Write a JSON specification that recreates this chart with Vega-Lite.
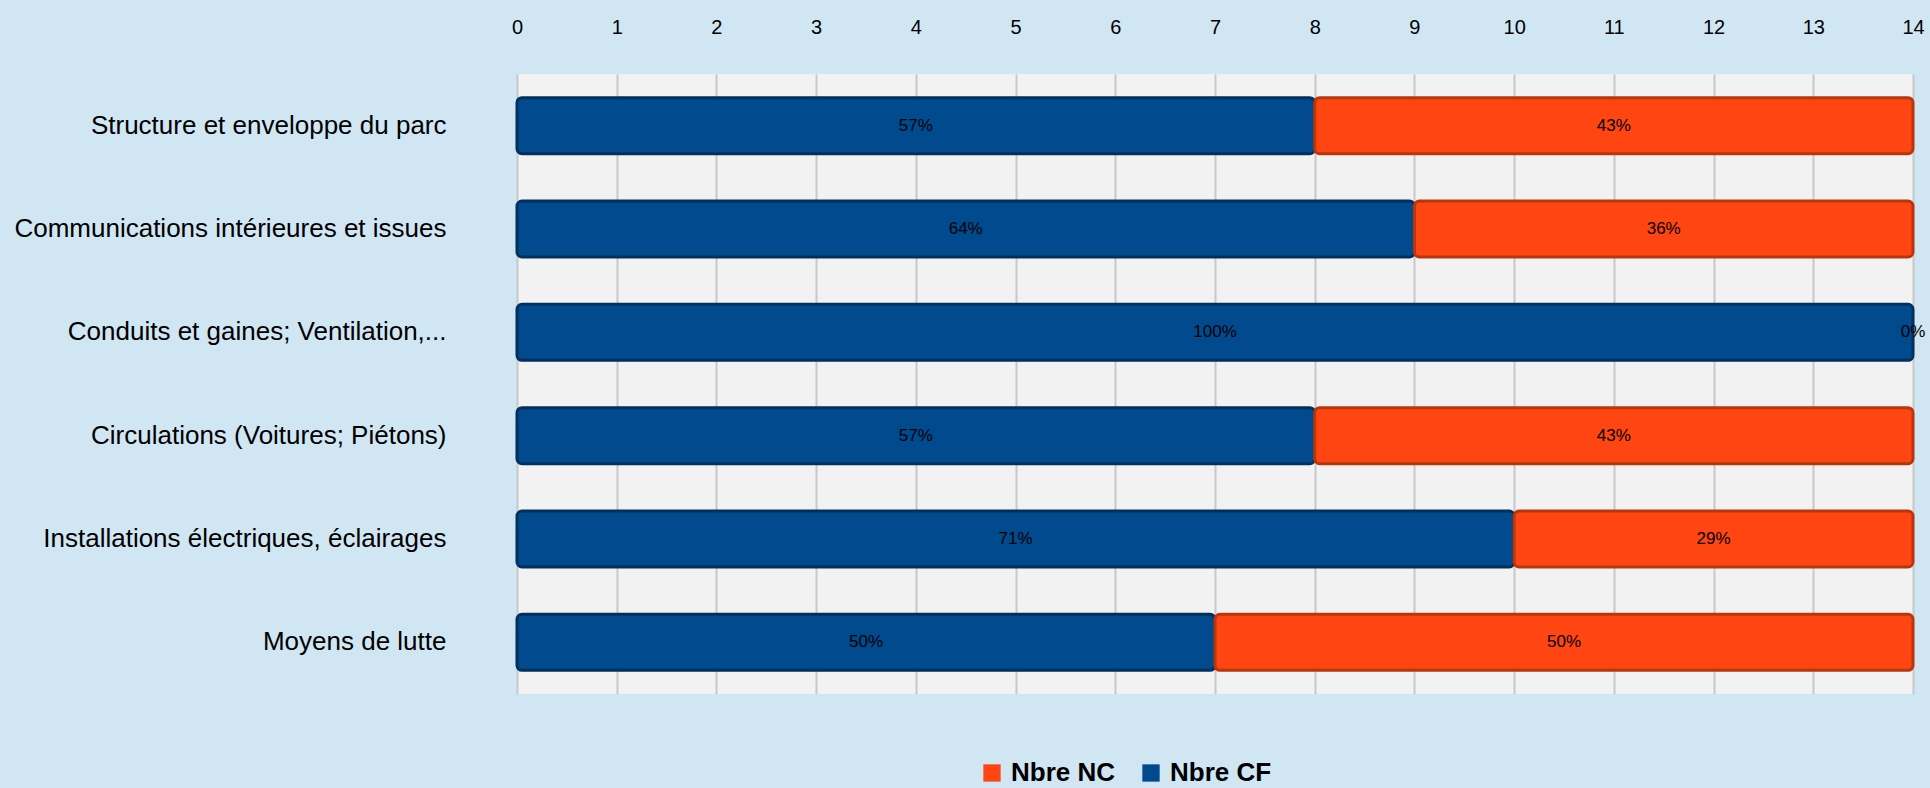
{
  "$schema": "https://vega.github.io/schema/vega-lite/v6.json",
  "width": 1396,
  "height": 620,
  "autosize": {"type": "none"},
  "padding": {"left": 517, "top": 74, "right": 17, "bottom": 94},
  "background": "#D0E6F3",
  "config": {
    "font": "Liberation Sans",
    "view": {"fill": "#F2F2F2", "stroke": null}
  },
  "data": {
    "values": [
      {"rubrique": "Structure et enveloppe du parc", "serie": "Nbre CF", "ordre": 1, "n": 8, "pct": "57%"},
      {"rubrique": "Structure et enveloppe du parc", "serie": "Nbre NC", "ordre": 2, "n": 6, "pct": "43%"},
      {"rubrique": "Communications intérieures et issues", "serie": "Nbre CF", "ordre": 1, "n": 9, "pct": "64%"},
      {"rubrique": "Communications intérieures et issues", "serie": "Nbre NC", "ordre": 2, "n": 5, "pct": "36%"},
      {"rubrique": "Conduits et gaines; Ventilation,...", "serie": "Nbre CF", "ordre": 1, "n": 14, "pct": "100%"},
      {"rubrique": "Conduits et gaines; Ventilation,...", "serie": "Nbre NC", "ordre": 2, "n": 0, "pct": "0%"},
      {"rubrique": "Circulations (Voitures; Piétons)", "serie": "Nbre CF", "ordre": 1, "n": 8, "pct": "57%"},
      {"rubrique": "Circulations (Voitures; Piétons)", "serie": "Nbre NC", "ordre": 2, "n": 6, "pct": "43%"},
      {"rubrique": "Installations électriques, éclairages", "serie": "Nbre CF", "ordre": 1, "n": 10, "pct": "71%"},
      {"rubrique": "Installations électriques, éclairages", "serie": "Nbre NC", "ordre": 2, "n": 4, "pct": "29%"},
      {"rubrique": "Moyens de lutte", "serie": "Nbre CF", "ordre": 1, "n": 7, "pct": "50%"},
      {"rubrique": "Moyens de lutte", "serie": "Nbre NC", "ordre": 2, "n": 7, "pct": "50%"}
    ]
  },
  "transform": [
    {"stack": "n", "groupby": ["rubrique"], "sort": [{"field": "ordre"}], "as": ["x0", "x1"]},
    {"calculate": "(datum.x0 + datum.x1) / 2", "as": "xmid"}
  ],
  "encoding": {
    "y": {
      "field": "rubrique",
      "type": "nominal",
      "sort": null,
      "axis": {
        "title": null,
        "domain": false,
        "ticks": false,
        "labelFontSize": 26,
        "labelColor": "#000000",
        "labelPadding": 71,
        "labelLimit": 520
      }
    }
  },
  "layer": [
    {
      "transform": [{"filter": "datum.n > 0"}],
      "mark": {"type": "bar", "size": 56, "cornerRadius": 5, "strokeWidth": 3},
      "encoding": {
        "x": {
          "field": "x0",
          "type": "quantitative",
          "scale": {"domain": [0, 14], "nice": false},
          "axis": {
            "orient": "top",
            "title": null,
            "values": [0, 1, 2, 3, 4, 5, 6, 7, 8, 9, 10, 11, 12, 13, 14],
            "format": "d",
            "domain": false,
            "ticks": false,
            "labelFontSize": 20,
            "labelColor": "#000000",
            "labelPadding": 37,
            "labelFlush": false,
            "grid": true,
            "gridColor": "#C8C8C8",
            "gridWidth": 2
          }
        },
        "x2": {"field": "x1"},
        "color": {
          "field": "serie",
          "type": "nominal",
          "scale": {"domain": ["Nbre NC", "Nbre CF"], "range": ["#FF4511", "#004A8D"]},
          "legend": {
            "orient": "none",
            "legendX": 462,
            "legendY": 686,
            "direction": "horizontal",
            "title": null,
            "symbolType": "square",
            "symbolSize": 300,
            "symbolStrokeWidth": 0,
            "labelFontSize": 26,
            "labelFontWeight": "bold",
            "labelColor": "#000000",
            "columnPadding": 22,
            "labelOffset": 6
          }
        },
        "stroke": {
          "field": "serie",
          "type": "nominal",
          "scale": {"domain": ["Nbre NC", "Nbre CF"], "range": ["#B8360C", "#00305E"]},
          "legend": null
        }
      }
    },
    {
      "mark": {"type": "text", "fontSize": 17, "color": "#000000", "align": "center", "baseline": "middle"},
      "encoding": {
        "x": {"field": "xmid", "type": "quantitative"},
        "text": {"field": "pct"}
      }
    }
  ]
}
